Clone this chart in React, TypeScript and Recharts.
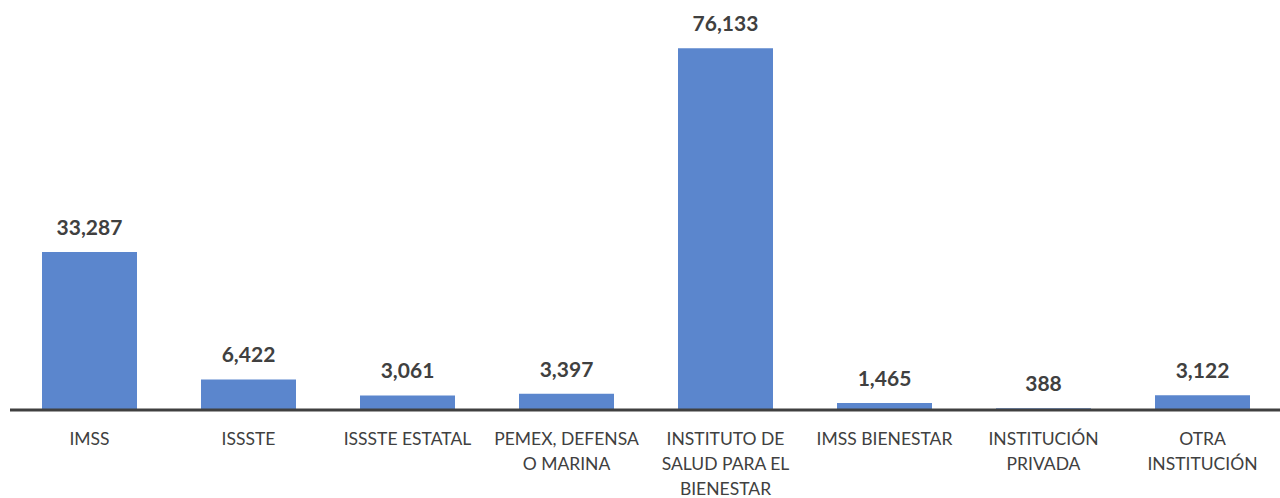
import React from "react";
import { BarChart, Bar, XAxis, YAxis, LabelList } from "recharts";

const categories = [
  "IMSS",
  "ISSSTE",
  "ISSSTE ESTATAL",
  "PEMEX, DEFENSA O MARINA",
  "INSTITUTO DE SALUD PARA EL BIENESTAR",
  "IMSS BIENESTAR",
  "INSTITUCIÓN PRIVADA",
  "OTRA INSTITUCIÓN",
];
const tickLines: string[][] = [
  ["IMSS"],
  ["ISSSTE"],
  ["ISSSTE ESTATAL"],
  ["PEMEX, DEFENSA", "O MARINA"],
  ["INSTITUTO DE", "SALUD PARA EL", "BIENESTAR"],
  ["IMSS BIENESTAR"],
  ["INSTITUCIÓN", "PRIVADA"],
  ["OTRA", "INSTITUCIÓN"],
];
const values = [33287, 6422, 3061, 3397, 76133, 1465, 388, 3122];

const data = categories.map((c, i) => ({ name: c, value: values[i], idx: i }));

const FONT = "Lato, 'Open Sans', sans-serif";
const TEXT = "#404040";

const Tick = (props: any) => {
  const { x, y, payload } = props;
  const lines = tickLines[payload.index] || [String(payload.value)];
  return (
    <g>
      {lines.map((l, i) => (
        <text
          key={i}
          x={x}
          y={y + 27 + i * 25}
          textAnchor="middle"
          fill={TEXT}
          fontFamily={FONT}
          fontSize={17.5}
        >
          {l}
        </text>
      ))}
    </g>
  );
};

const ValueLabel = (props: any) => {
  const { x, y, width, value } = props;
  return (
    <text
      x={x + width / 2}
      y={y - 17}
      textAnchor="middle"
      fill={TEXT}
      fontFamily={FONT}
      fontWeight="bold"
      fontSize={21}
    >
      {Number(value).toLocaleString("en-US")}
    </text>
  );
};

export default function App() {
  return (
    <div style={{ position: "absolute", top: 0, left: 0, width: 1280, height: 498, overflow: "hidden", background: "#fff" }}>
      <BarChart
        width={1282}
        height={498}
        data={data}
        margin={{ top: 30, right: 0, bottom: 0, left: 10 }}
        barCategoryGap={32}
        style={{ overflow: "visible" }}
      >
        <XAxis
          dataKey="name"
          axisLine={{ stroke: "#404040", strokeWidth: 3 }}
          tickLine={false}
          interval={0}
          height={88}
          tick={<Tick />}
        />
        <YAxis hide domain={[0, 80000]} />
        <Bar dataKey="value" fill="#5B86CD" isAnimationActive={false}>
          <LabelList dataKey="value" content={<ValueLabel />} />
        </Bar>
      </BarChart>
    </div>
  );
}
